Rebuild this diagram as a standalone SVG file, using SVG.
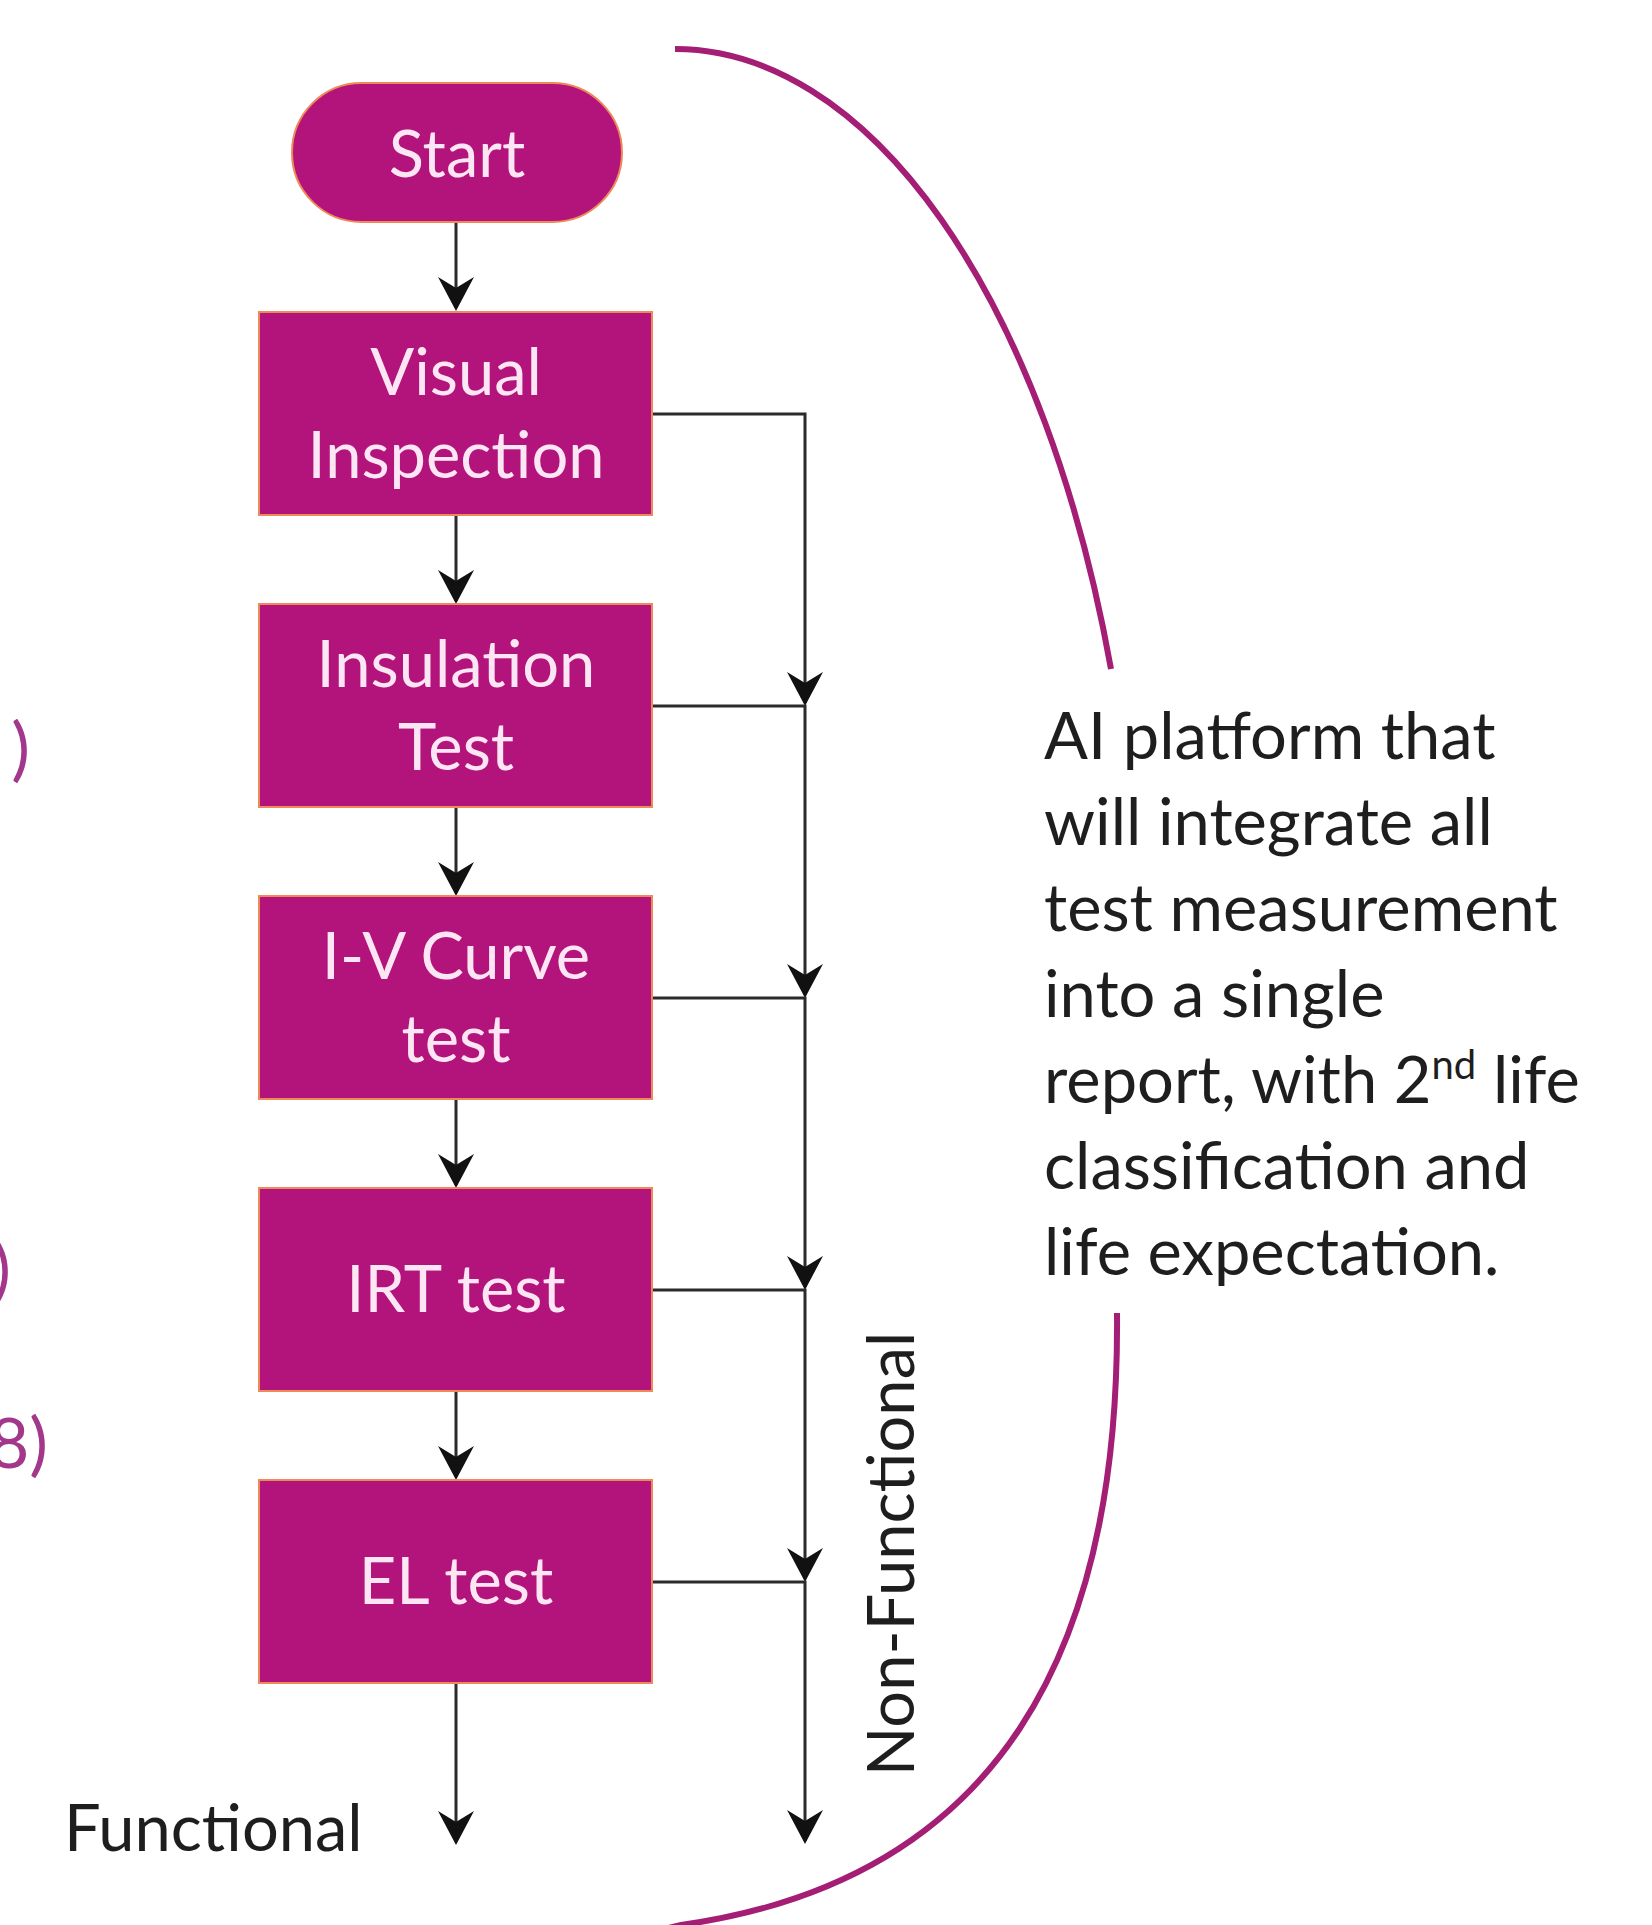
<svg xmlns="http://www.w3.org/2000/svg" width="1652" height="1925" viewBox="0 0 1652 1925">
  <style>
    .box { fill: #B3147C; stroke: #EE8A5A; stroke-width: 2; }
    .btxt { font-family: Lato, "Open Sans", sans-serif; font-size: 65px; fill: #FDE6F4; text-anchor: middle; }
    .txt { font-family: Lato, "Open Sans", sans-serif; font-size: 65px; fill: #1E1E1E; }
    .side { font-family: Lato, "Open Sans", sans-serif; font-size: 70px; fill: #A2378B; text-anchor: end; }
    .conn { fill: none; stroke: #2B2B2B; stroke-width: 3; }
    .arc { fill: none; stroke: #A31E74; stroke-width: 6; }
  </style>
  <defs>
    <marker id="ah" viewBox="0 0 34 36" refX="31" refY="18" markerWidth="34" markerHeight="36" markerUnits="userSpaceOnUse" orient="auto">
      <path d="M0,0 L34,18 L0,36 L11,18 Z" fill="#111"/>
    </marker>
  </defs>
  <rect width="1652" height="1925" fill="#FFFFFF"/>

  <!-- partial side texts -->
  <text class="side" x="30" y="773">)</text>
  <text class="side" x="11" y="1294">)</text>
  <text class="side" x="48" y="1468">8)</text>

  <!-- bracket arc -->
  <g id="bracket">
    <path class="arc" d="M 675 49 A 464 941 0 0 1 1111 669"/>
    <path class="arc" d="M 1117 1313 C 1120 1650, 1000 1880, 681 1925 L 660 1930"/>
  </g>

  <g id="connectors">
    <path class="conn" d="M456,222 L456,308" marker-end="url(#ah)"/>
    <path class="conn" d="M456,515 L456,601" marker-end="url(#ah)"/>
    <path class="conn" d="M456,807 L456,893" marker-end="url(#ah)"/>
    <path class="conn" d="M456,1099 L456,1185" marker-end="url(#ah)"/>
    <path class="conn" d="M456,1391 L456,1477" marker-end="url(#ah)"/>
    <path class="conn" d="M456,1683 L456,1842" marker-end="url(#ah)"/>
    <path class="conn" d="M652,414 L805,414 L805,703" marker-end="url(#ah)"/>
    <path class="conn" d="M652,706 L805,706 L805,995" marker-end="url(#ah)"/>
    <path class="conn" d="M652,998 L805,998 L805,1287" marker-end="url(#ah)"/>
    <path class="conn" d="M652,1290 L805,1290 L805,1579" marker-end="url(#ah)"/>
    <path class="conn" d="M652,1582 L805,1582 L805,1841" marker-end="url(#ah)"/>
  </g>

  <g id="start">
    <rect class="box" x="292" y="83" width="330" height="139" rx="69.5" ry="69.5"/>
    <text class="btxt" x="457" y="177">Start</text>
  </g>
  <g id="visual">
    <rect class="box" x="259" y="312" width="393" height="203"/>
    <text class="btxt" x="456" y="395">Visual</text>
    <text class="btxt" x="456" y="478">Inspection</text>
  </g>
  <g id="insulation">
    <rect class="box" x="259" y="604" width="393" height="203"/>
    <text class="btxt" x="456" y="687">Insulation</text>
    <text class="btxt" x="456" y="770">Test</text>
  </g>
  <g id="ivcurve">
    <rect class="box" x="259" y="896" width="393" height="203"/>
    <text class="btxt" x="456" y="979">I-V Curve</text>
    <text class="btxt" x="456" y="1062">test</text>
  </g>
  <g id="irt">
    <rect class="box" x="259" y="1188" width="393" height="203"/>
    <text class="btxt" x="456" y="1312">IRT test</text>
  </g>
  <g id="el">
    <rect class="box" x="259" y="1480" width="393" height="203"/>
    <text class="btxt" x="456" y="1604">EL test</text>
  </g>

  <g id="functional">
    <text class="txt" x="64" y="1851">Functional</text>
  </g>
  <g id="nonfunctional">
    <text class="txt" text-anchor="middle" transform="translate(914,1554) rotate(-90)">Non-Functional</text>
  </g>

  <g id="note">
    <text class="txt" x="1044" y="759">AI platform that</text>
    <text class="txt" x="1044" y="845">will integrate all</text>
    <text class="txt" x="1044" y="931">test measurement</text>
    <text class="txt" x="1044" y="1017">into a single</text>
    <text class="txt" x="1044" y="1103">report, with 2<tspan font-size="40" dy="-24">nd</tspan><tspan dy="24"> life</tspan></text>
    <text class="txt" x="1044" y="1189">classification and</text>
    <text class="txt" x="1044" y="1275">life expectation.</text>
  </g>
</svg>
